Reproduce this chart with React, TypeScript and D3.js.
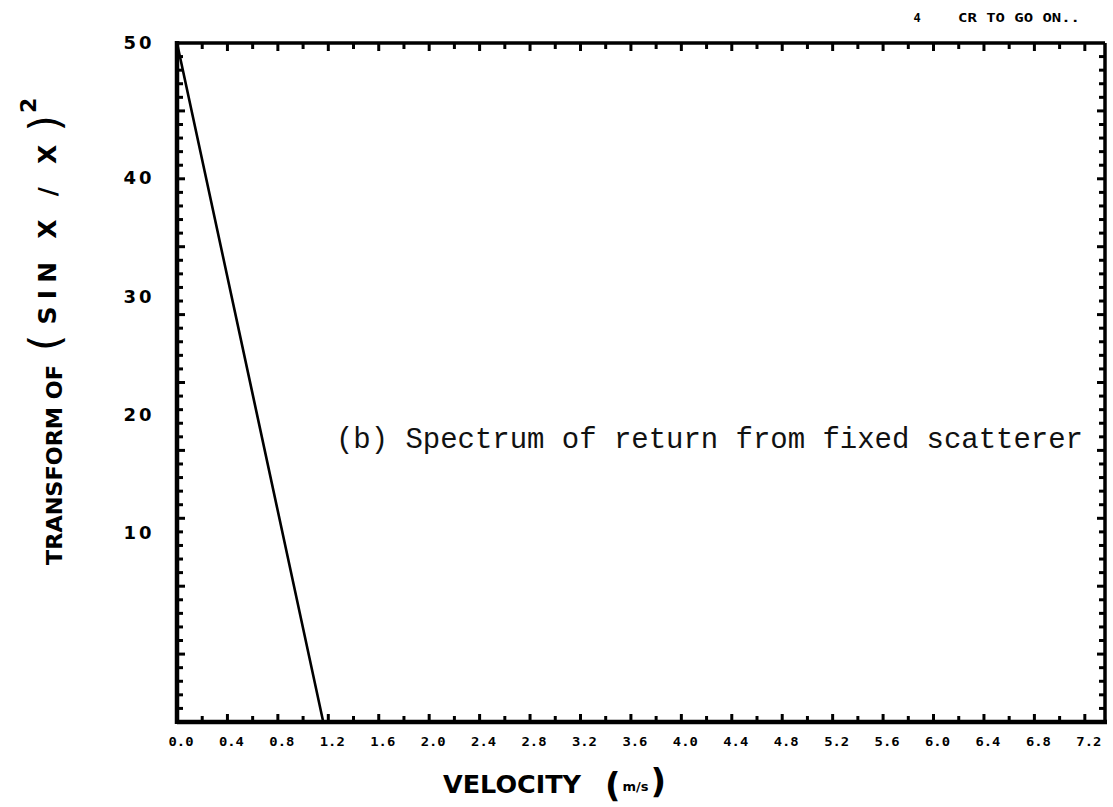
import React from "react";
import * as d3 from "d3";

// ---- data ----
const velocity = [0, 1.16, 7.36];
const transform = [50, 0, 0];
const xTickLabels = ["0.0","0.4","0.8","1.2","1.6","2.0","2.4","2.8","3.2","3.6","4.0","4.4","4.8","5.2","5.6","6.0","6.4","6.8","7.2"];
const xTickValues = xTickLabels.map(Number);
const yTickLabels = [10, 20, 30, 40, 50];
const annotation = "(b) Spectrum of return from fixed scatterer";
const statusCount = "4";
const statusText = "CR TO GO ON..";

const W = 1113;
const H = 807;
const M = { left: 177, right: 1105, top: 43, bottom: 722 };

export default function App() {
  const x = d3.scaleLinear().domain([0, 7.36]).range([M.left, M.right]);
  const y = d3.scaleLinear().domain([0, 50]).range([M.bottom, M.top]);
  // the hand-lettered y labels sit off the true values
  const yHand = d3.scaleLinear().domain([10, 40]).range([533, 178]);
  const labelY = (v: number) => (v === 50 ? y(50) : yHand(v));

  const minorX = d3.range(1, 37).map((i) => i * 0.2);
  const minorY = d3.range(1, 50);

  const line = d3
    .line<number>()
    .x((_, i) => x(velocity[i]))
    .y((d) => y(d));

  const tickFont = "'DejaVu Sans Mono', monospace";
  const handFont = "'DejaVu Sans', 'Noto Sans', sans-serif";

  return (
    <svg
      width={W}
      height={H}
      style={{ position: "absolute", left: 0, top: 0, background: "#fff" }}
    >
      <rect x={0} y={0} width={W} height={H} fill="#fff" />
      {/* frame */}
      <line x1={M.left} x2={M.right} y1={M.top} y2={M.top} stroke="#000" strokeWidth={3.5} />
      <line x1={M.right} x2={M.right} y1={M.top} y2={M.bottom} stroke="#000" strokeWidth={3.5} />
      <line x1={M.left} x2={M.right + 2} y1={M.bottom} y2={M.bottom} stroke="#000" strokeWidth={4.5} />
      <line x1={M.left} x2={M.left} y1={M.top - 2} y2={M.bottom + 2} stroke="#000" strokeWidth={4.5} />

      {/* x ticks, bottom (up) and top (down) */}
      {minorX.map((v, i) => {
        const major = (i + 1) % 2 === 0;
        const len = major ? 8 : 6;
        return (
          <g key={"xt" + i}>
            <line x1={x(v)} x2={x(v)} y1={M.bottom} y2={M.bottom - len} stroke="#000" strokeWidth={3} />
            <line x1={x(v)} x2={x(v)} y1={M.top} y2={M.top + len} stroke="#000" strokeWidth={3} />
          </g>
        );
      })}
      {/* y ticks, left (right) and right (left) */}
      {minorY.map((v) => {
        const major = v % 5 === 0;
        const len = major ? 8 : 6;
        return (
          <g key={"yt" + v}>
            <line x1={M.left} x2={M.left + len} y1={y(v)} y2={y(v)} stroke="#000" strokeWidth={3} />
            <line x1={M.right} x2={M.right - len} y1={y(v)} y2={y(v)} stroke="#000" strokeWidth={3} />
          </g>
        );
      })}

      {/* x tick labels */}
      {xTickValues.map((v, i) => (
        <text
          key={"xl" + i}
          x={x(v) + 4}
          y={746}
          textAnchor="middle"
          fontFamily={tickFont}
          fontWeight="bold"
          fontSize={12}
          textLength={25}
          lengthAdjust="spacingAndGlyphs"
          fill="#000"
        >
          {xTickLabels[i]}
        </text>
      ))}

      {/* y tick labels */}
      {yTickLabels.map((v) => (
        <text
          key={"yl" + v}
          x={139}
          y={labelY(v)}
          dy="0.35em"
          textAnchor="middle"
          fontFamily={handFont}
          fontWeight="bold"
          fontSize={18}
          letterSpacing={3}
          fill="#000"
        >
          {v}
        </text>
      ))}

      {/* data line */}
      <path d={line(transform) ?? ""} fill="none" stroke="#000" strokeWidth={2.6} />

      {/* annotation */}
      <text
        x={336}
        y={448}
        fontFamily="'Liberation Mono', 'DejaVu Sans Mono', monospace"
        fontSize={29}
        textLength={747}
        lengthAdjust="spacing"
        fill="#111"
      >
        {annotation}
      </text>

      {/* status line */}
      <text x={917} y={22} textAnchor="middle" fontFamily={tickFont} fontWeight="bold" fontSize={12} fill="#000">
        {statusCount}
      </text>
      <text
        x={958}
        y={22}
        fontFamily={tickFont}
        fontWeight="bold"
        fontSize={12}
        textLength={122}
        lengthAdjust="spacingAndGlyphs"
        fill="#000"
      >
        {statusText}
      </text>

      {/* x title */}
      <text x={443} y={793} fontFamily={handFont} fontWeight="bold" fontSize={24} fill="#000">
        <tspan textLength={138} lengthAdjust="spacingAndGlyphs">VELOCITY</tspan>
        <tspan dx={24} fontSize={34} dy={4}>(</tspan>
        <tspan dx={2} dy={-6} fontSize={13}>m/s</tspan>
        <tspan dx={2} dy={2} fontSize={34}>)</tspan>
      </text>

      {/* y title */}
      <g transform="translate(62,565) rotate(-90)">
        <text x={0} y={0} fontFamily={handFont} fontWeight="bold" fontSize={22} fill="#000">
          <tspan textLength={200} lengthAdjust="spacingAndGlyphs">TRANSFORM OF</tspan>
          <tspan dx={14} fontSize={42} fontWeight="normal" dy={-2}>(</tspan>
          <tspan dx={10} dy={-4} fontSize={25} textLength={180} lengthAdjust="spacing">SIN X / X</tspan>
          <tspan dx={6} dy={4} fontSize={42} fontWeight="normal">)</tspan>
          <tspan dx={2} dy={-24} fontSize={22}>2</tspan>
        </text>
      </g>
    </svg>
  );
}
